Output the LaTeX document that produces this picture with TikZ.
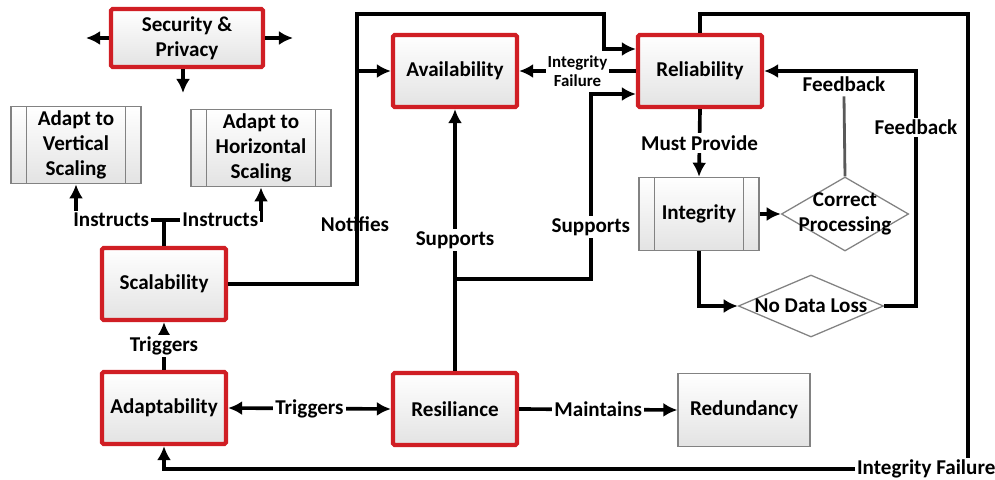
\documentclass[tikz,border=0pt]{standalone}
\usepackage{fontspec}
\setmainfont{Carlito}
\usetikzlibrary{arrows.meta,positioning,calc,shapes.geometric}
\definecolor{boxred}{RGB}{208,30,36}
\definecolor{boxgray}{RGB}{130,130,130}

\begin{document}
\begin{tikzpicture}[x=0.025cm, y=-0.025cm, every node/.style={font=\fontsize{15}{17.7}\selectfont\bfseries, align=center},
  redbox/.style={draw=boxred, line width=3pt, rounded corners=1.2pt, top color=white, bottom color=black!11, minimum width=3.1cm, minimum height=1.8cm},
  graybox/.style={draw=boxgray, line width=0.9pt, top color=white, bottom color=black!11, minimum width=3.3cm, minimum height=1.83cm},
  procbox/.style={graybox, path picture={
    \draw[boxgray, line width=0.9pt] ([xshift=0.38cm]path picture bounding box.north west) -- ([xshift=0.38cm]path picture bounding box.south west);
    \draw[boxgray, line width=0.9pt] ([xshift=-0.38cm]path picture bounding box.north east) -- ([xshift=-0.38cm]path picture bounding box.south east);}},
  dia/.style={shape=diamond, draw=boxgray, line width=0.9pt, fill=white, inner sep=0pt},
  lab/.style={fill=white, inner sep=1.5pt},
  wire/.style={line width=2.6pt},
  arr/.style={-{Latex[length=10pt,width=10pt]}, line width=2.6pt},
  arr2/.style={{Latex[length=10pt,width=10pt]}-{Latex[length=10pt,width=10pt]}, line width=2.6pt},
  fbline/.style={line width=2pt, black!65}]
\useasboundingbox (0,0) rectangle (995,480);

% main blocks
\node[redbox, minimum width=3.8cm, minimum height=1.45cm] (sec) at (187,38) {Security \&\\Privacy};
\node[procbox, minimum width=3.25cm] (vert) at (76,145) {Adapt to\\Vertical\\Scaling};
\node[procbox, minimum width=3.5cm] (horz) at (261,148) {Adapt to\\Horizontal\\Scaling};
\node[redbox] (scal) at (164,284) {Scalability};
\node[redbox] (adap) at (164,408) {Adaptability};
\node[redbox] (resil) at (455,409) {Resiliance};
\node[graybox] (redun) at (744,410) {Redundancy};
\node[redbox] (avail) at (455,71) {Availability};
\node[redbox] (rel) at (700,71) {Reliability};
\node[procbox, minimum width=3cm] (integ) at (699,214) {Integrity};
\node[dia, minimum width=3.18cm, minimum height=1.85cm, label={[align=center]center:Correct\\Processing}] (cp) at (845,214) {};
\node[dia, minimum width=3.63cm, minimum height=1.55cm, label={center:No Data Loss}] (ndl) at (811,306) {};

% free ends and bends
\coordinate (secL) at (86,38);
\coordinate (secR) at (293,38);
\coordinate (secD) at (183,93);
\coordinate (ij) at (164,220);
\coordinate (ntop) at (357,14);
\coordinate (ecorner) at (968,14);
\coordinate (fbx) at (916,71);

\draw[arr] (sec.west) -- (secL);
\draw[arr] (sec.east) -- (secR);
\draw[arr] (secD |- sec.south) -- (secD);

% scaling instructions
\draw[wire] (scal.north) -- (ij);
\draw[arr] (ij) -| node[lab, pos=0.3] {Instructs} (vert.south);
\draw[arr] (ij) -| node[lab, pos=0.29] {Instructs} (horz.south);

\draw[arr] (adap.north) -- node[lab] {Triggers} (scal.south);
\draw[arr2] (adap.east) -- node[lab] {Triggers} (resil.west);
\draw[arr] (resil.east) -- node[lab] {Maintains} (redun.west);

% notification bus
\node (notif) at (355,224) {Notifies};
\draw[arr] (scal.east) -| (ntop) -| ($(rel.west)+(-32,-22)$) -- ($(rel.west)+(0,-22)$);
\draw[arr] (ntop |- avail.west) -- (avail.west);

\draw[arr] (resil.north) -- node[lab] {Supports} (avail.south);
\draw[arr] ($(resil.north)+(0,-92)$) -| node[lab, pos=0.64] {Supports} ($(rel.west)+(-45,23)$) -- ($(rel.west)+(0,23)$);

\draw[arr] (rel.west) -- node[lab, font=\fontsize{12}{13.5}\selectfont\bfseries] {Integrity\\Failure} (avail.east);
\draw[arr] (rel.north) |- (ecorner) |- node[lab, pos=0.526] {Integrity Failure} (adap.south |- 0,469) -- (adap.south);

\draw[arr] (rel.south) -- node[lab] {Must Provide} (integ.north);
\draw[arr] (integ.east) -- (cp.west);
\draw[arr] (integ.south) |- (ndl.west);
\draw[arr] (ndl.east) -| node[lab, pos=0.88] {Feedback} (fbx) -- (rel.east);

\node (fb) at (844,84) {Feedback};
\draw[fbline] (cp.north) -- (fb.south);
\end{tikzpicture}
\end{document}
